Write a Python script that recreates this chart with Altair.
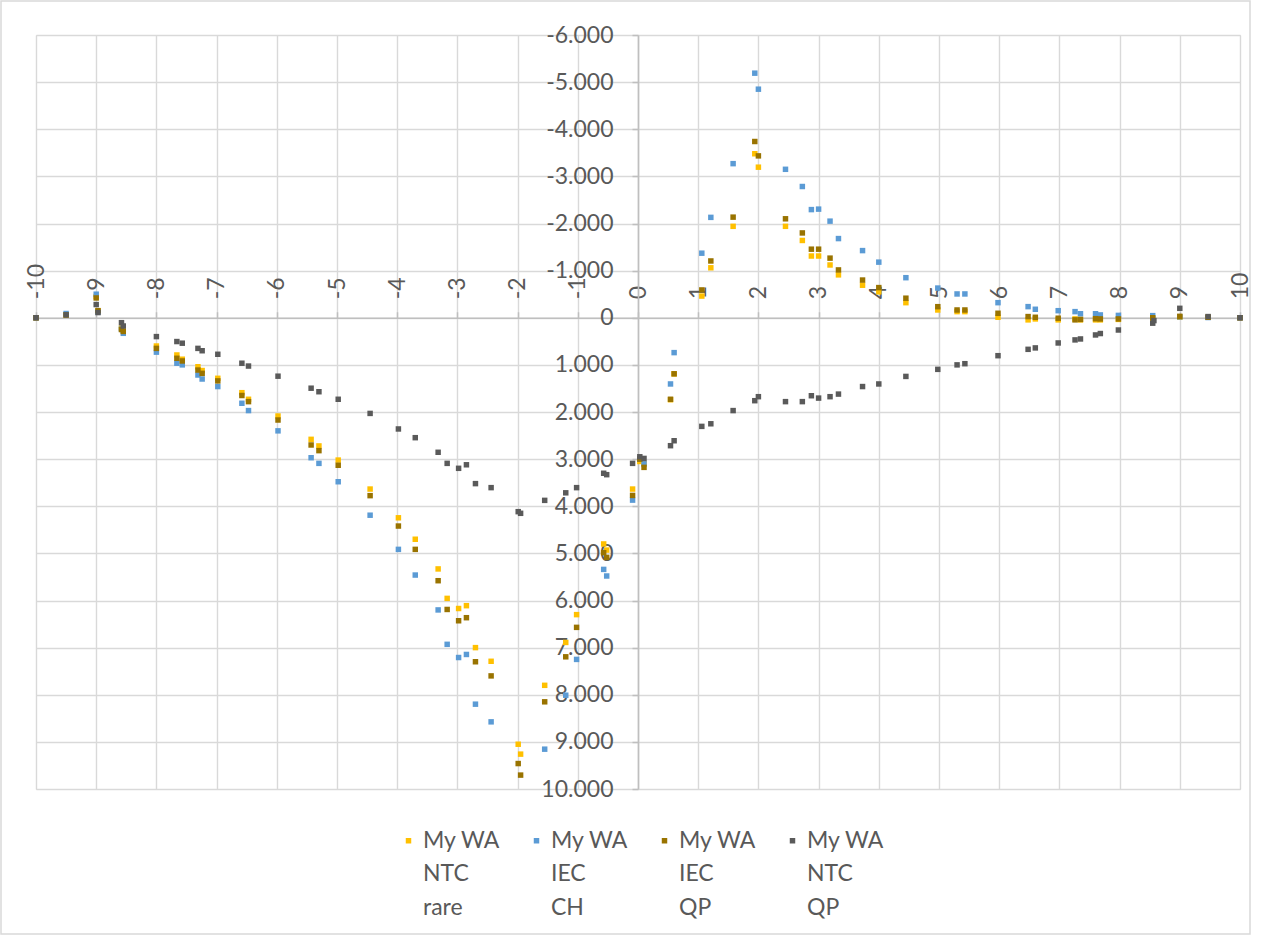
import altair as alt
import pandas as pd

# Plot geometry (plot area only)
WIDTH = 1204
HEIGHT = 754
X_MIN, X_MAX = -10, 10
Y_MIN, Y_MAX = -6000, 10000

# Shared x positions of the measurement points
x_pos = [
    -10, -9.5, -9.0, -8.97, -8.58, -8.55, -8.0, -7.66, -7.57, -7.31,
    -7.24, -6.98, -6.58, -6.47, -5.98, -5.43, -5.30, -4.98, -4.45, -3.98,
    -3.70, -3.32, -3.17, -2.98, -2.85, -2.70, -2.44, -1.99, -1.95, -1.55,
    -1.20, -1.02, -0.57, -0.52, -0.09, 0.03, 0.10, 0.54, 0.60, 1.06,
    1.21, 1.58, 1.94, 2.0, 2.45, 2.73, 2.88, 3.0, 3.19, 3.33,
    3.73, 4.0, 4.45, 4.98, 5.30, 5.43, 5.98, 6.48, 6.60, 6.98,
    7.26, 7.35, 7.60, 7.68, 7.98, 8.55, 8.57, 9.0, 9.47, 10,
]

# Series values (None = no point drawn)
ntc_rare = [
    0, -60, -450, -150, 220, 260, 600, 790, 880, 1040,
    1120, 1285, 1590, 1730, 2085, 2580, 2720, 3020, 3635, 4245,
    4700, 5330, 5955, 6170, 6110, 7000, 7290, 9050, 9260, 7800,
    6890, 6300, 4800, 4930, 3635, 3050, 3100, 1740, 1190, -460,
    -1060, -1940, -3480, -3195, -1940, -1640, -1310, -1310, -1120, -910,
    -690, -550, -320, -165, -130, -130, -10, 45, 25, 45,
    25, 45, 45, 45, 35, 20, None, -10, -10, 0,
]
iec_ch = [
    0, -90, -500, -120, 240, 330, 730, 965, 1000, 1215,
    1300, 1460, 1815, 1970, 2400, 2970, 3090, 3480, 4190, 4915,
    5460, 6200, 6930, 7210, 7145, 8200, 8575, None, None, 9155,
    8010, 7250, 5340, 5480, 3870, 3000, 3100, 1405, 740, -1370,
    -2130, -3270, -5190, -4850, -3150, -2785, -2295, -2305, -2050, -1680,
    -1425, -1180, -850, -630, -505, -505, -320, -236, -180, -150,
    -130, -85, -85, -60, -50, -45, None, -20, -5, 0,
]
iec_qp = [
    0, -60, -420, -150, 250, 290, 650, 860, 917, 1110,
    1180, 1340, 1650, 1780, 2170, 2700, 2820, 3130, 3775, 4420,
    4915, 5580, 6190, 6430, 6365, 7300, 7600, 9460, 9705, 8150,
    7195, 6570, 4985, 5085, 3770, 3000, 3175, 1730, 1190, -590,
    -1205, -2135, -3740, -3435, -2100, -1800, -1455, -1455, -1265, -1015,
    -800, -640, -415, -235, -165, -165, -95, -25, -10, 10,
    45, 35, 20, 25, 25, 0, None, -30, -10, 0,
]
ntc_qp = [
    0, -60, -280, -110, 105, 175, 400, 505, 540, 650,
    700, 775, 965, 1025, 1240, 1495, 1570, 1730, 2030, 2360,
    2545, 2855, 3090, 3195, 3120, 3520, 3605, 4115, 4150, 3875,
    3715, 3605, 3300, 3330, 3090, 2950, 2985, 2715, 2610, 2305,
    2250, 1970, 1760, 1675, 1780, 1780, 1655, 1705, 1675, 1620,
    1460, 1405, 1245, 1095, 1000, 975, 805, 670, 640, 535,
    470, 450, 365, 335, 260, 115, 60, -200, -25, 0,
]

series_names = ["My WA NTC rare", "My WA IEC CH", "My WA IEC QP", "My WA NTC QP"]
series_values = [ntc_rare, iec_ch, iec_qp, ntc_qp]
series_colors = ["#FFC000", "#5B9BD5", "#997300", "#5A5A5A"]

rows = []
for name, values in zip(series_names, series_values):
    for xv, yv in zip(x_pos, values):
        if yv is not None:
            rows.append({"series": name, "x": xv, "y": yv})
df = pd.DataFrame(rows)

# Axes cross at the origin
x_zero_px = WIDTH * (0 - X_MIN) / (X_MAX - X_MIN)
y_zero_px = HEIGHT * (0 - Y_MIN) / (Y_MAX - Y_MIN)

FONT = "Lato"
TEXT_COLOR = "#595959"
GRID_COLOR = "#d9d9d9"
AXIS_COLOR = "#bfbfbf"

x_axis = alt.Axis(
    orient="top",
    offset=-y_zero_px,
    values=list(range(X_MIN, X_MAX + 1)),
    title=None,
    grid=True,
    gridColor=GRID_COLOR,
    gridWidth=1.4,
    domainColor=AXIS_COLOR,
    domainWidth=1.6,
    tickColor=AXIS_COLOR,
    tickSize=6,
    tickWidth=1.5,
    labelAngle=270,
    labelAlign="left",
    labelBaseline="middle",
    labelPadding=13,
    labelFont=FONT,
    labelFontSize=23,
    labelColor=TEXT_COLOR,
    labelFlush=False,
    labelOverlap=False,
    labelExpr="replace(format(datum.value, 'd'), '\u2212', '-')",
)

y_axis = alt.Axis(
    orient="left",
    offset=-x_zero_px,
    values=list(range(Y_MIN, Y_MAX + 1, 1000)),
    title=None,
    grid=True,
    gridColor=GRID_COLOR,
    gridWidth=1.4,
    domainColor=AXIS_COLOR,
    domainWidth=1.6,
    tickColor=AXIS_COLOR,
    tickSize=6,
    tickWidth=1.5,
    labelPadding=19,
    labelFont=FONT,
    labelFontSize=23,
    labelColor=TEXT_COLOR,
    labelFlush=False,
    labelOverlap=False,
    labelExpr="replace(replace(format(datum.value, ','), ',', '.'), '\u2212', '-')",
)

legend = alt.Legend(
    orient="none",
    legendX=361,
    legendY=794,
    direction="horizontal",
    columns=4,
    symbolType="square",
    symbolSize=30,
    symbolStrokeWidth=0,
    labelFont=FONT,
    labelFontSize=23,
    labelColor=TEXT_COLOR,
    labelOffset=3,
    labelBaseline="middle",
    columnPadding=24,
    labelExpr="[slice(datum.label, 0, 5), split(datum.label, ' ')[2], split(datum.label, ' ')[3]]",
)

points = alt.Chart(df).mark_square(size=30, opacity=1).encode(
    x=alt.X("x:Q", scale=alt.Scale(domain=[X_MIN, X_MAX], nice=False, zero=False), axis=x_axis),
    y=alt.Y("y:Q", scale=alt.Scale(domain=[Y_MIN, Y_MAX], reverse=True, nice=False, zero=False), axis=y_axis),
    color=alt.Color(
        "series:N",
        scale=alt.Scale(domain=series_names, range=series_colors),
        legend=legend,
        title=None,
    ),
)

# Outer chart frame
frame = alt.Chart(pd.DataFrame({"frame": [0]})).mark_rect(
    fill="transparent", stroke=GRID_COLOR, strokeWidth=1.5
).encode(
    x=alt.value(-35), x2=alt.value(1214), y=alt.value(-34), y2=alt.value(899)
)

chart = alt.layer(points, frame).properties(
    width=WIDTH,
    height=HEIGHT,
    padding={"left": 36, "top": 35, "right": 21, "bottom": 151},
    autosize=alt.AutoSizeParams(type="none"),
    background="white",
).configure_view(
    strokeWidth=0
).configure(
    font=FONT,
    style={"guide-label": {"lineHeight": 33.5}},
)

chart.save("out.html", embed_options={"renderer": "svg", "actions": False})
